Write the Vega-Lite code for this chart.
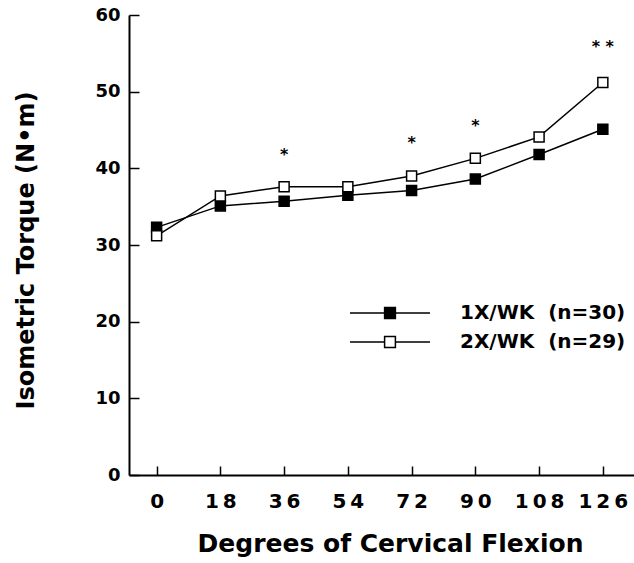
{
  "$schema": "https://vega.github.io/schema/vega-lite/v6.json",
  "width": 505,
  "height": 460,
  "autosize": {"type": "none"},
  "padding": {"left": 129, "top": 15, "right": 0, "bottom": 88},
  "background": "white",
  "config": {"view": {"stroke": null}, "font": "DejaVu Sans"},
  "datasets": {
    "torque": [
      {"deg": 0, "torque": 32.3, "group": "1X/WK\u00a0\u00a0(n=30)"},
      {"deg": 18, "torque": 35.1, "group": "1X/WK\u00a0\u00a0(n=30)"},
      {"deg": 36, "torque": 35.7, "group": "1X/WK\u00a0\u00a0(n=30)"},
      {"deg": 54, "torque": 36.5, "group": "1X/WK\u00a0\u00a0(n=30)"},
      {"deg": 72, "torque": 37.1, "group": "1X/WK\u00a0\u00a0(n=30)"},
      {"deg": 90, "torque": 38.6, "group": "1X/WK\u00a0\u00a0(n=30)"},
      {"deg": 108, "torque": 41.8, "group": "1X/WK\u00a0\u00a0(n=30)"},
      {"deg": 126, "torque": 45.1, "group": "1X/WK\u00a0\u00a0(n=30)"},
      {"deg": 0, "torque": 31.2, "group": "2X/WK\u00a0\u00a0(n=29)"},
      {"deg": 18, "torque": 36.4, "group": "2X/WK\u00a0\u00a0(n=29)"},
      {"deg": 36, "torque": 37.6, "group": "2X/WK\u00a0\u00a0(n=29)"},
      {"deg": 54, "torque": 37.6, "group": "2X/WK\u00a0\u00a0(n=29)"},
      {"deg": 72, "torque": 39.0, "group": "2X/WK\u00a0\u00a0(n=29)"},
      {"deg": 90, "torque": 41.3, "group": "2X/WK\u00a0\u00a0(n=29)"},
      {"deg": 108, "torque": 44.1, "group": "2X/WK\u00a0\u00a0(n=29)"},
      {"deg": 126, "torque": 51.2, "group": "2X/WK\u00a0\u00a0(n=29)"}
    ],
    "stars": [
      {"deg": 36, "torque": 42.3, "mark": "*"},
      {"deg": 72, "torque": 43.8, "mark": "*"},
      {"deg": 90, "torque": 46.0, "mark": "*"},
      {"deg": 126, "torque": 56.4, "mark": "* *"}
    ]
  },
  "layer": [
    {
      "data": {"name": "torque"},
      "mark": {"type": "line", "color": "black", "strokeWidth": 1.5},
      "encoding": {
        "x": {
          "field": "deg", "type": "quantitative",
          "scale": {"domain": [-7.8, 134.8], "nice": false, "zero": false},
          "axis": {
            "values": [0, 18, 36, 54, 72, 90, 108, 126],
            "title": "Degrees of Cervical Flexion",
            "titleFont": "DejaVu Sans", "titleFontSize": 25, "titleFontWeight": "bold", "titleColor": "black",
            "titleBaseline": "alphabetic", "titleX": 261, "titleY": 76,
            "labelFont": "DejaVu Sans", "labelFontSize": 20, "labelFontWeight": "bold", "labelColor": "black",
            "labelExpr": "join(split(datum.label, ''), '\u2009')",
            "labelPadding": 25, "labelFlush": false, "labelOverlap": false,
            "tickSize": -9, "tickWidth": 1.5, "tickColor": "black",
            "domainColor": "black", "domainWidth": 2, "grid": false
          }
        },
        "y": {
          "field": "torque", "type": "quantitative",
          "scale": {"domain": [0, 60], "nice": false},
          "axis": {
            "values": [0, 5, 10, 15, 20, 25, 30, 35, 40, 45, 50, 55, 60],
            "title": "Isometric Torque (N\u2022m)",
            "titleFont": "DejaVu Sans", "titleFontSize": 24, "titleFontWeight": "bold", "titleColor": "black",
            "titleBaseline": "alphabetic", "titleAngle": -90, "titleX": -96, "titleY": 235,
            "labelFont": "DejaVu Sans", "labelFontSize": 18, "labelFontWeight": "bold", "labelColor": "black",
            "labelExpr": "datum.value % 10 === 0 ? datum.label : ''",
            "labelPadding": 19, "labelOverlap": false,
            "tickSize": {"condition": {"test": "datum.value % 10 === 0", "value": -10}, "value": -5},
            "tickWidth": 1.5, "tickColor": "black",
            "domainColor": "black", "domainWidth": 2, "grid": false
          }
        },
        "detail": {"field": "group"}
      }
    },
    {
      "data": {"name": "torque"},
      "mark": {"type": "point", "shape": "square", "filled": true, "size": 100, "stroke": "black", "strokeWidth": 1.5, "opacity": 1},
      "encoding": {
        "x": {"field": "deg", "type": "quantitative"},
        "y": {"field": "torque", "type": "quantitative"},
        "fill": {
          "field": "group", "type": "nominal",
          "scale": {"range": ["black", "white"]},
          "legend": {
            "orient": "none", "legendX": 251, "legendY": 288,
            "title": null, "padding": 0,
            "symbolType": "M-6.67,0H-0.9M0.9,0H6.67M-0.9,-0.9H0.9V0.9H-0.9Z",
            "symbolSize": 144, "symbolStrokeWidth": 1.5, "symbolStrokeColor": "black",
            "labelFont": "DejaVu Sans", "labelFontSize": 20, "labelFontWeight": "bold", "labelColor": "black",
            "labelLimit": 0, "labelOffset": 60, "rowPadding": 9
          }
        }
      }
    },
    {
      "data": {"name": "stars"},
      "mark": {"type": "text", "font": "DejaVu Sans", "fontWeight": "bold", "fontSize": 16, "baseline": "alphabetic", "dy": 9, "color": "black"},
      "encoding": {
        "x": {"field": "deg", "type": "quantitative"},
        "y": {"field": "torque", "type": "quantitative"},
        "text": {"field": "mark"}
      }
    }
  ]
}
